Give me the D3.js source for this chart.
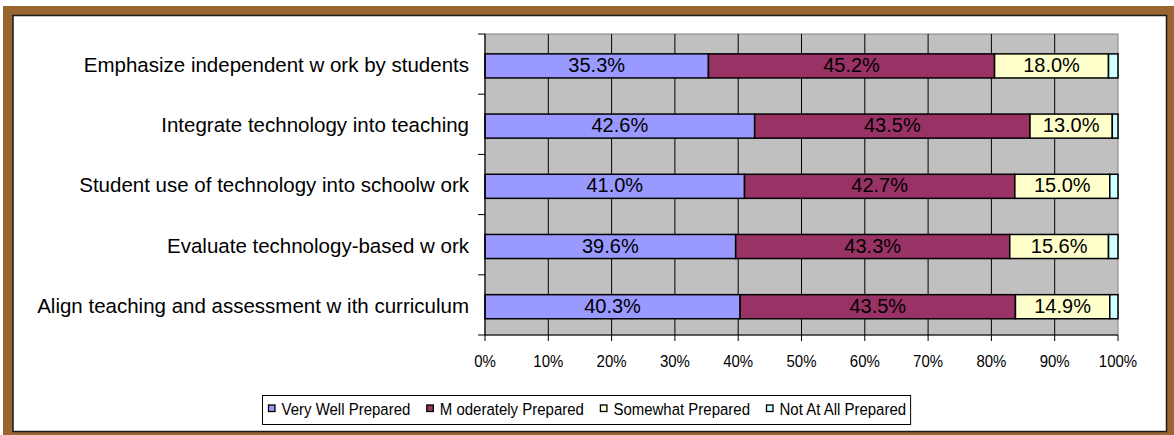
<!DOCTYPE html>
<html>
<head>
<meta charset="utf-8">
<script src="https://cdn.jsdelivr.net/npm/d3@7"></script>
<style>
  body { margin: 0; background: #fff; }
  svg { display: block; font-family: "Liberation Sans", Arial, sans-serif; }
</style>
</head>
<body>
<div class="canvas"></div>
<script>
// data
const categories = [
  'Emphasize independent w ork by students',
  'Integrate technology into teaching',
  'Student use of technology into schoolw ork',
  'Evaluate technology-based w ork',
  'Align teaching and assessment w ith curriculum'
];
const seriesNames = ['Very Well Prepared', 'M oderately Prepared', 'Somewhat Prepared', 'Not At All Prepared'];
const veryWell   = [35.3, 42.6, 41.0, 39.6, 40.3];
const moderately = [45.2, 43.5, 42.7, 43.3, 43.5];
const somewhat   = [18.0, 13.0, 15.0, 15.6, 14.9];
const notAtAll   = [1.5, 0.9, 1.3, 1.5, 1.3];
const tickValues = [0, 10, 20, 30, 40, 50, 60, 70, 80, 90, 100];

const dims = { width: 1174, height: 435 };
const plot = { left: 485, right: 1118, top: 34, bottom: 335 };
const colours = ['#9999ff', '#993366', '#ffffcc', '#ccffff'];

// build rows for the stack
const rows = categories.map((c, i) => ({
  cat: c,
  [seriesNames[0]]: veryWell[i],
  [seriesNames[1]]: moderately[i],
  [seriesNames[2]]: somewhat[i],
  [seriesNames[3]]: notAtAll[i]
}));

const svg = d3.select('.canvas')
  .append('svg')
  .attr('width', dims.width)
  .attr('height', dims.height);

// frame
svg.append('rect')
  .attr('x', 3).attr('y', 6)
  .attr('width', dims.width - 3).attr('height', dims.height - 6)
  .attr('fill', '#996633');
svg.append('rect')
  .attr('x', 13).attr('y', 15.5)
  .attr('width', 1153.5).attr('height', 416)
  .attr('fill', '#fff')
  .attr('stroke', '#1a1a1a')
  .attr('stroke-width', 1.5);

const x = d3.scaleLinear().domain([0, 100]).range([plot.left, plot.right]);
const y = d3.scaleBand().domain(categories).range([plot.top, plot.bottom]);
const colour = d3.scaleOrdinal().domain(seriesNames).range(colours);

// plot background
svg.append('rect')
  .attr('x', plot.left).attr('y', plot.top)
  .attr('width', plot.right - plot.left).attr('height', plot.bottom - plot.top)
  .attr('fill', '#c0c0c0')
  .attr('stroke', '#808080');

// vertical gridlines
svg.append('g')
  .selectAll('line')
  .data(tickValues.slice(1, -1))
  .enter().append('line')
    .attr('x1', d => x(d)).attr('x2', d => x(d))
    .attr('y1', plot.top).attr('y2', plot.bottom)
    .attr('stroke', '#000')
    .attr('stroke-width', 1);

// stacked bars, normalised to 100%
const stack = d3.stack().keys(seriesNames).offset(d3.stackOffsetExpand);
const layers = stack(rows);

const barOff = y.bandwidth() * 0.33;
const barH = y.bandwidth() * 0.4;

const layerG = svg.append('g')
  .selectAll('g')
  .data(layers)
  .enter().append('g')
    .attr('fill', d => colour(d.key));

layerG.selectAll('rect')
  .data(d => d)
  .enter().append('rect')
    .attr('x', d => x(d[0] * 100))
    .attr('y', d => y(d.data.cat) + barOff)
    .attr('width', d => x(d[1] * 100) - x(d[0] * 100))
    .attr('height', barH)
    .attr('stroke', '#000')
    .attr('stroke-width', 1.5);

// value labels (not for the thin last series)
layers.slice(0, 3).forEach((layer, li) => {
  const vals = [veryWell, moderately, somewhat][li];
  svg.append('g')
    .selectAll('text')
    .data(layer)
    .enter().append('text')
      .attr('x', d => (x(d[0] * 100) + x(d[1] * 100)) / 2)
      .attr('y', d => y(d.data.cat) + barOff + barH / 2 + 6)
      .attr('text-anchor', 'middle')
      .attr('font-size', 20)
      .attr('fill', '#000')
      .text((d, i) => vals[i].toFixed(1) + '%');
});

// axes lines
svg.append('line')
  .attr('x1', plot.left).attr('x2', plot.left)
  .attr('y1', plot.top).attr('y2', plot.bottom + 0.5)
  .attr('stroke', '#000').attr('stroke-width', 1.2);
svg.append('line')
  .attr('x1', plot.left).attr('x2', plot.right)
  .attr('y1', plot.bottom).attr('y2', plot.bottom)
  .attr('stroke', '#000').attr('stroke-width', 1.2);

// category ticks at band boundaries
const bounds = categories.map(c => y(c)).concat([plot.bottom]);
svg.append('g')
  .selectAll('line')
  .data(bounds)
  .enter().append('line')
    .attr('x1', plot.left - 7).attr('x2', plot.left)
    .attr('y1', d => d).attr('y2', d => d)
    .attr('stroke', '#000');

// category labels
svg.append('g')
  .selectAll('text')
  .data(categories)
  .enter().append('text')
    .attr('x', 469)
    .attr('y', d => y(d) + barOff + barH / 2 + 6)
    .attr('text-anchor', 'end')
    .attr('font-size', 20.5)
    .attr('fill', '#000')
    .text(d => d);

// x ticks and labels
svg.append('g')
  .selectAll('line')
  .data(tickValues)
  .enter().append('line')
    .attr('x1', d => x(d)).attr('x2', d => x(d))
    .attr('y1', plot.bottom).attr('y2', plot.bottom + 6)
    .attr('stroke', '#000');

svg.append('g')
  .selectAll('text')
  .data(tickValues)
  .enter().append('text')
    .attr('transform', d => `translate(${x(d)}, 366.5) scale(1, 1.12)`)
    .attr('text-anchor', 'middle')
    .attr('font-size', 15)
    .attr('fill', '#000')
    .text(d => d + '%');

// legend
const legendG = svg.append('g');
const legendBox = legendG.append('rect')
  .attr('x', 262.5).attr('y', 395.5)
  .attr('height', 29)
  .attr('fill', '#fff')
  .attr('stroke', '#000');

let lx = 268.5;
seriesNames.forEach(name => {
  legendG.append('rect')
    .attr('x', lx).attr('y', 405)
    .attr('width', 6.5).attr('height', 6.5)
    .attr('fill', colour(name))
    .attr('stroke', '#000')
    .attr('stroke-width', 1.3);
  const t = legendG.append('text')
    .attr('transform', `translate(${lx + 13}, 415) scale(1, 1.1)`)
    .attr('font-size', 15)
    .attr('fill', '#000')
    .text(name);
  lx += 13 + t.node().getComputedTextLength() + 16.5;
});
legendBox.attr('width', lx - 262.5 - 12);
</script>
</body>
</html>
